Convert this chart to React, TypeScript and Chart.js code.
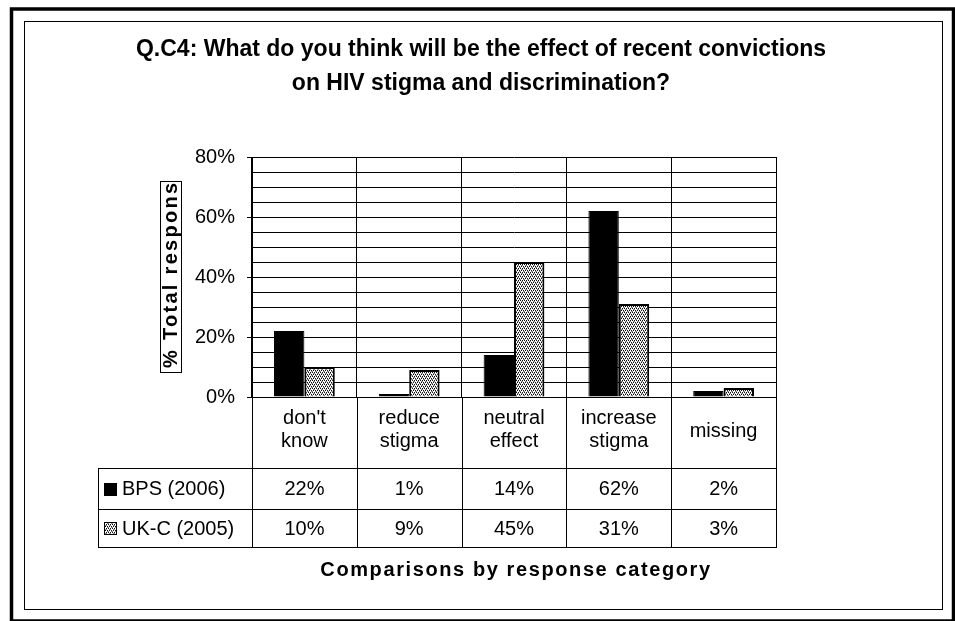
import React, { useEffect, useRef } from 'react';
import { Chart, registerables } from 'chart.js';

Chart.register(...registerables);

const TITLE_LINES = [
  'Q.C4: What do you think will be the effect of recent convictions',
  'on HIV stigma and discrimination?',
];
const CATEGORIES: string[][] = [
  ["don't", 'know'],
  ['reduce', 'stigma'],
  ['neutral', 'effect'],
  ['increase', 'stigma'],
  ['missing'],
];
const SERIES_NAMES = ['BPS (2006)', 'UK-C (2005)'];
const BPS_2006 = [22, 1, 14, 62, 2];
const UKC_2005 = [10, 9, 45, 31, 3];
const Y_MIN = 0;
const Y_MAX = 80;
const Y_STEP = 5;
const Y_LABEL_STEP = 20;
const Y_TITLE = '% Total response';
const X_TITLE = 'Comparisons by response category';

const FONT = '"Liberation Sans", Arial, Helvetica, sans-serif';

function makePattern(): CanvasPattern | string {
  const c = document.createElement('canvas');
  c.width = 4;
  c.height = 4;
  const g = c.getContext('2d');
  if (!g) return '#999';
  g.fillStyle = '#fff';
  g.fillRect(0, 0, 4, 4);
  g.fillStyle = '#111';
  [[0, 0], [2, 0], [1, 2], [3, 2]].forEach(([x, y]) => g.fillRect(x, y, 1, 1));
  g.fillStyle = '#888';
  [[1, 1], [3, 3], [0, 3], [2, 1]].forEach(([x, y]) => g.fillRect(x, y, 1, 1));
  return g.createPattern(c, 'repeat') || '#999';
}

const pct = (v: number) => `${v}%`;

function makeTablePlugin(pattern: CanvasPattern | string) {
  return {
    id: 'excelTable',
    afterDraw(chart: any) {
      const { ctx, chartArea: ca, scales } = chart;
      const xs = scales.x;
      const n = CATEGORIES.length;
      const catW = (ca.right - ca.left) / n;
      const labelBottom = ca.bottom + 71;
      const row1Bottom = labelBottom + 41;
      const row2Bottom = row1Bottom + 38;
      const tableLeft = 98;

      ctx.save();
      ctx.strokeStyle = '#000';
      ctx.fillStyle = '#000';

      // outer frames
      ctx.lineWidth = 3.5;
      ctx.strokeRect(11.5, 9, 942, 612);
      ctx.lineWidth = 1;
      ctx.strokeRect(24.5, 21.5, 918, 588);

      // chart title
      ctx.font = `bold 23px ${FONT}`;
      ctx.textAlign = 'center';
      ctx.textBaseline = 'middle';
      TITLE_LINES.forEach((t, i) => ctx.fillText(t, 481, 50 + i * 34));

      // table lines
      const hline = (y: number, x1: number, x2: number) => {
        ctx.beginPath();
        ctx.moveTo(x1, Math.round(y) + 0.5);
        ctx.lineTo(x2, Math.round(y) + 0.5);
        ctx.stroke();
      };
      const vline = (x: number, y1: number, y2: number) => {
        ctx.beginPath();
        ctx.moveTo(Math.round(x) + 0.5, y1);
        ctx.lineTo(Math.round(x) + 0.5, y2);
        ctx.stroke();
      };
      hline(labelBottom, tableLeft, ca.right);
      hline(row1Bottom, tableLeft, ca.right);
      hline(row2Bottom, tableLeft, ca.right);
      vline(tableLeft, labelBottom, row2Bottom + 1);
      for (let k = 0; k <= n; k++) {
        vline(ca.left + k * catW, ca.bottom, row2Bottom + 1);
      }

      // category labels
      ctx.font = `20px ${FONT}`;
      ctx.textAlign = 'center';
      ctx.textBaseline = 'middle';
      CATEGORIES.forEach((lines, i) => {
        const x = xs.getPixelForValue(i);
        if (lines.length === 1) {
          ctx.fillText(lines[0], x, ca.bottom + 34);
        } else {
          lines.forEach((t, j) => ctx.fillText(t, x, ca.bottom + 21 + j * 23));
        }
      });

      // values
      const rows = [
        { name: SERIES_NAMES[0], data: BPS_2006, y: (labelBottom + row1Bottom) / 2, fill: '#000' as any },
        { name: SERIES_NAMES[1], data: UKC_2005, y: (row1Bottom + row2Bottom) / 2, fill: pattern },
      ];
      rows.forEach((r) => {
        ctx.fillStyle = '#000';
        ctx.textAlign = 'center';
        r.data.forEach((v, i) => ctx.fillText(pct(v), xs.getPixelForValue(i), r.y + 1));
        ctx.fillStyle = r.fill;
        ctx.fillRect(104, Math.round(r.y - 6), 13, 13);
        ctx.lineWidth = 1;
        ctx.strokeRect(104.5, Math.round(r.y - 6) + 0.5, 12, 12);
        ctx.fillStyle = '#000';
        ctx.textAlign = 'left';
        ctx.fillText(r.name, 122, r.y + 1);
      });

      // x title
      ctx.font = `bold 20px ${FONT}`;
      (ctx as any).letterSpacing = '1.6px';
      ctx.textAlign = 'center';
      ctx.fillText(X_TITLE, (ca.left + ca.right) / 2 + 2, row2Bottom + 23);
      (ctx as any).letterSpacing = '0px';

      // y title box
      const bx = 160, by = 181, bw = 21, bh = 191;
      ctx.lineWidth = 1;
      ctx.strokeRect(bx + 0.5, by + 0.5, bw, bh);
      ctx.save();
      ctx.beginPath();
      ctx.rect(bx + 1, by + 1, bw - 1, bh - 1);
      ctx.clip();
      ctx.translate(bx + bw / 2 + 1, by + bh);
      ctx.rotate(-Math.PI / 2);
      ctx.font = `bold 20px ${FONT}`;
      (ctx as any).letterSpacing = '2.3px';
      ctx.textAlign = 'left';
      ctx.textBaseline = 'middle';
      ctx.fillText(Y_TITLE, 4, 0);
      ctx.restore();

      ctx.restore();
    },
  };
}

export default function App() {
  const ref = useRef<HTMLCanvasElement | null>(null);

  useEffect(() => {
    if (!ref.current) return;
    const pattern = makePattern();
    const chart = new Chart(ref.current, {
      type: 'bar',
      data: {
        labels: CATEGORIES.map((c) => c.join(' ')),
        datasets: [
          {
            label: SERIES_NAMES[0],
            data: BPS_2006,
            backgroundColor: '#000',
            borderColor: '#000',
            borderWidth: 1,
          },
          {
            label: SERIES_NAMES[1],
            data: UKC_2005,
            backgroundColor: pattern as any,
            borderColor: '#000',
            borderWidth: 2,
          },
        ],
      },
      plugins: [makeTablePlugin(pattern)],
      options: {
        responsive: false,
        animation: false,
        devicePixelRatio: 1,
        layout: { padding: { left: 0, right: 179, top: 157, bottom: 0 } },
        datasets: { bar: { categoryPercentage: 0.58, barPercentage: 1 } },
        plugins: {
          legend: { display: false },
          tooltip: { enabled: false },
          title: { display: false },
        },
        scales: {
          x: {
            ticks: { display: false },
            grid: { color: '#000', lineWidth: 1, drawTicks: false, offset: true },
            border: { color: '#000' },
            afterFit: (s: any) => {
              s.height = 224;
            },
          },
          y: {
            min: Y_MIN,
            max: Y_MAX,
            ticks: {
              stepSize: Y_STEP,
              autoSkip: false,
              color: '#000',
              padding: 12,
              font: { family: FONT, size: 20 },
              callback: (v: any) => (Number(v) % Y_LABEL_STEP === 0 ? pct(Number(v)) : ''),
            },
            grid: {
              color: '#000',
              lineWidth: 1,
              tickLength: 5,
              tickColor: (c: any) =>
                c.tick && c.tick.value % Y_LABEL_STEP === 0 ? '#000' : 'rgba(0,0,0,0)',
            },
            border: { color: '#000' },
            afterFit: (s: any) => {
              s.width = 252;
            },
          },
        },
      } as any,
    });
    return () => chart.destroy();
  }, []);

  return (
    <div style={{ position: 'absolute', left: 0, top: 0, width: 955, height: 621, background: '#fff' }}>
      <canvas ref={ref} width={955} height={621} style={{ display: 'block' }} />
    </div>
  );
}
